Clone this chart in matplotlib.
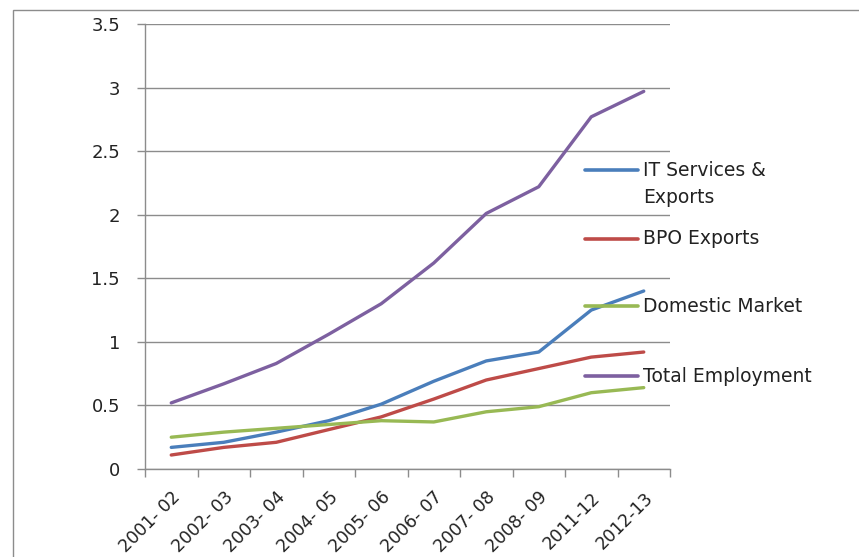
import matplotlib
matplotlib.use("Agg")
import matplotlib.pyplot as plt
from matplotlib.lines import Line2D
from matplotlib.patches import Rectangle
import numpy as np

categories = ["2001- 02", "2002- 03", "2003- 04", "2004- 05", "2005- 06",
              "2006- 07", "2007- 08", "2008- 09", "2011-12", "2012-13"]
it_services = [0.17, 0.21, 0.29, 0.38, 0.51, 0.69, 0.85, 0.92, 1.25, 1.40]
bpo_exports = [0.11, 0.17, 0.21, 0.31, 0.41, 0.55, 0.70, 0.79, 0.88, 0.92]
domestic = [0.25, 0.29, 0.32, 0.35, 0.38, 0.37, 0.45, 0.49, 0.60, 0.64]
total = [0.52, 0.67, 0.83, 1.06, 1.30, 1.62, 2.01, 2.22, 2.77, 2.97]

series = [
    ("IT Services &\nExports", it_services, "#4A7EBB"),
    ("BPO Exports", bpo_exports, "#BE4B48"),
    ("Domestic Market", domestic, "#98B954"),
    ("Total Employment", total, "#7D60A0"),
]

W, H = 859, 557
fig = plt.figure(figsize=(W / 100, H / 100), dpi=100)
plt.rcParams['font.family'] = ['DejaVu Sans']

# outer chart border
fig.add_artist(Rectangle((13 / W, -0.1), (W + 20) / W, 1 - 10 / H + 0.1,
                         transform=fig.transFigure, fill=False,
                         edgecolor="#8c8c8c", linewidth=1.0))

left, right, top, bottom = 145, 670, 24, 469
ax = fig.add_axes([left / W, (H - bottom) / H, (right - left) / W, (bottom - top) / H])

x = np.arange(len(categories))
for label, vals, color in series:
    ax.plot(x, vals, color=color, linewidth=2.4, solid_capstyle='round')

ax.set_xlim(-0.5, len(categories) - 0.5)
ax.set_ylim(0, 3.5)
ax.set_yticks(np.arange(0, 3.51, 0.5))
ax.set_yticklabels(["0", "0.5", "1", "1.5", "2", "2.5", "3", "3.5"])
ax.yaxis.grid(True, color="#8c8c8c", linewidth=1.0)
ax.set_axisbelow(True)

ax.set_xticks(x)
ax.set_xticklabels(categories, rotation=45, ha='right', va='top',
                   rotation_mode='anchor', fontsize=12.5, color="#222222")
ax.set_xticks(np.arange(-0.5, len(categories), 1.0), minor=True)
ax.tick_params(axis='x', which='major', length=0, pad=14)
ax.tick_params(axis='x', which='minor', length=6, color="#8c8c8c", width=1.0)
ax.tick_params(axis='y', length=6, color="#8c8c8c", width=1.0, pad=12,
               labelsize=13, labelcolor="#222222")

for s in ['top', 'right']:
    ax.spines[s].set_visible(False)
for s in ['left', 'bottom']:
    ax.spines[s].set_color("#8c8c8c")
    ax.spines[s].set_linewidth(1.0)

# legend (Excel style, handle aligned to first text line)
leg_y = [170, 239, 306, 376]
for (label, vals, color), yy in zip(series, leg_y):
    fig.add_artist(Line2D([585 / W, 638 / W], [(H - yy) / H] * 2,
                          transform=fig.transFigure, color=color,
                          linewidth=2.6, solid_capstyle='round'))
    if "\n" in label:
        fig.text(643 / W, (H - (yy + 14)) / H, label, ha='left', va='center',
                 fontsize=13.5, color="#222222", linespacing=1.55)
    else:
        fig.text(643 / W, (H - yy) / H, label, ha='left', va='center',
                 fontsize=13.5, color="#222222")

fig.savefig("out.png", dpi=100)
